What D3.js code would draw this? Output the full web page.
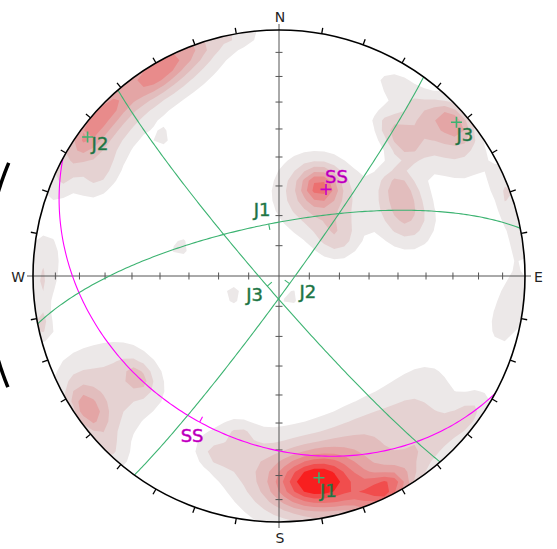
<!DOCTYPE html>
<html>
<head>
<meta charset="utf-8">
<script src="https://cdn.jsdelivr.net/npm/d3@7"></script>
<style>
  html, body { margin: 0; padding: 0; background: #fff; }
  svg { display: block; }
  text { font-family: "DejaVu Sans", Verdana, sans-serif; }
</style>
</head>
<body>
<svg id="net" width="557" height="549"></svg>
<script>
// ---- Planes: dip direction / dip (degrees) ----
const planeNames = ["SS", "J1", "J2", "J3"];
const planeDipDirection = [208.5, 348.8, 126.0, 229.1];
const planeDip = [32.9, 72.5, 85.7, 84.9];

// ---- Pole concentrations feeding the density contours ----
// trend (deg), plunge (deg), weight, spread (deg)
const clusterTrend  = [170.3, 170.8, 153.6, 153.6, 163.2, 137.4, 126.0, 130.2, 149.4, 101.0, 93.4,
                       24.5, 25.7, 56.8, 64.2, 64.2, 52.6, 43.9, 36.3, 31.3,
                       48.8, 49.7, 74.1, 43.1, 68.1, 82.7,
                       305.4, 314.7, 328.3, 310.2, 331.6, 338.5, 299.4, 350.8, 293.7,
                       273.9, 266.6, 258.3, 235.1, 235.1, 224.2, 238.4, 234.1, 234.1, 195.7, 199.7, 194.0,
                       247.6, 286.3, 152.4, 320.0];
const clusterPlunge = [16.8, 17.0, 3.3, 5.0, 7.8, 10.3, 4.5, 25.9, 28.1, 7.1, 3.5,
                       57.0, 60.0, 67.0, 42.5, 42.5, 39.0, 27.0, 24.8, 10.1,
                       5.5, 12.5, 2.7, 14.2, 1.2, 2.0,
                       3.6, 3.3, 4.5, 5.3, 2.9, 1.4, 17.6, 1.0, 3.2,
                       5.0, 3.0, 2.3, 5.3, 7.0, 1.6, 20.5, 30.0, 30.0, 27.4, 23.8, 34.9,
                       73.5, 55.5, 82.2, 27.6];
const clusterWeight = [4.0, 5.0, 4.5, 2.0, 1.5, 2.0, 2.0, 1.5, 1.6, 1.5, 1.3,
                       3.5, 3.5, 2.0, 1.6, 1.6, 2.3, 2.6, 1.8, 1.4,
                       3.0, 2.6, 1.4, 1.3, 1.3, 1.2,
                       2.2, 1.5, 2.0, 3.3, 3.3, 1.5, 1.5, 1.3, 1.3,
                       1.6, 1.3, 2.2, 2.0, 2.8, 1.3, 1.3, 1.5, 1.6, 1.5, 1.0, 1.0,
                       1.5, 1.5, 1.4, 1.2];
const clusterSpread = [6.5, 12, 4.5, 9, 6, 7, 5, 9, 9, 6, 4,
                       4, 9.3, 5, 6, 8, 4.5, 4.5, 4, 4,
                       4, 9, 4.5, 5, 4, 4,
                       4.5, 4, 5, 10, 10, 5, 5, 4, 4,
                       6, 4, 3, 3.5, 8, 4, 10, 3, 7, 8, 3, 3,
                       3, 3, 3, 2.5];

// ---- Contour levels ----
const contourLevels = [1, 2, 3, 4, 5, 6, 7, 8];
const contourColors = ["#ece8e8", "#e5d2d2", "#e2bdbd", "#e4a5a5", "#e88b8b", "#ec7070", "#f14d4d", "#f81f1f"];

// ---- Compass ----
const compassLabels = ["N", "E", "S", "W"];
const compassAzimuths = [0, 90, 180, 270];

// =====================================================================
const svg = d3.select("#net");
const cx = 279, cy = 276, R = 246;
const rad = Math.PI / 180;

const xs = d3.scaleLinear().domain([-1, 1]).range([cx - R, cx + R]);
const ys = d3.scaleLinear().domain([-1, 1]).range([cy + R, cy - R]);

// Lambert equal-area, lower hemisphere: (trend, plunge) -> unit disk
function project(trend, plunge) {
  const theta = (90 - plunge) * rad;
  const r = Math.SQRT2 * Math.sin(theta / 2);
  return [r * Math.sin(trend * rad), r * Math.cos(trend * rad)];
}
function toVec(trend, plunge) {
  const t = trend * rad, p = plunge * rad;
  return [Math.cos(p) * Math.sin(t), Math.cos(p) * Math.cos(t), Math.sin(p)];
}
function fromVec(v) {
  let [e, n, d] = v;
  if (d < 0) { e = -e; n = -n; d = -d; }
  const h = Math.hypot(e, n);
  return [Math.atan2(e, n) / rad, Math.atan2(d, h) / rad];
}
function unitToVec(x, y) {
  const r = Math.min(Math.hypot(x, y), 1);
  const theta = 2 * Math.asin(r / Math.SQRT2);
  const t = Math.atan2(x, y);
  return [Math.sin(theta) * Math.sin(t), Math.sin(theta) * Math.cos(t), Math.cos(theta)];
}
const P = (t, p) => { const u = project(t, p); return [xs(u[0]), ys(u[1])]; };

// ---- density grid (coarse counting grid) ----
const n = 52, L = 1.04;
const clusters = clusterTrend.map((t, i) => ({
  v: toVec(t, clusterPlunge[i]),
  w: clusterWeight[i],
  k: 1 / Math.pow(clusterSpread[i] * rad, 2)
}));
const gridX = c => -L + 2 * L * (c - 0.5) / (n - 1);
const gridY = c => L - 2 * L * (c - 0.5) / (n - 1);
const values = new Float64Array(n * n);
for (let j = 0; j < n; j++) {
  for (let i = 0; i < n; i++) {
    const v = unitToVec(gridX(i + 0.5), gridY(j + 0.5));
    let s = 0;
    for (const c of clusters) {
      const dot = v[0] * c.v[0] + v[1] * c.v[1] + v[2] * c.v[2];
      s += c.w * Math.exp(c.k * (dot - 1));
    }
    values[j * n + i] = s;
  }
}
const contours = d3.contours().size([n, n]).thresholds(contourLevels)(values);
const gridPath = d3.geoPath(d3.geoTransform({
  point(x, y) { this.stream.point(xs(gridX(x)), ys(gridY(y))); }
}));

svg.append("defs").append("clipPath").attr("id", "prim")
  .append("circle").attr("cx", cx).attr("cy", cy).attr("r", R);

svg.append("g").attr("clip-path", "url(#prim)")
  .selectAll("path").data(contours).join("path")
  .attr("d", gridPath)
  .attr("fill", (d, i) => contourColors[i])
  .attr("stroke", "none");

// ---- outer arc on the left margin ----
const arcR = 293;
const arcPts = d3.range(247.7, 293.01, 0.5).map(a => [cx + arcR * Math.sin(a * rad), cy - arcR * Math.cos(a * rad)]);
svg.append("path").attr("d", d3.line()(arcPts))
  .attr("fill", "none").attr("stroke", "#000").attr("stroke-width", 3.5);

// ---- cross axes with 10° ticks ----
const axisG = svg.append("g").attr("stroke", "#555").attr("stroke-width", 1);
axisG.append("line").attr("x1", cx - R - 6).attr("x2", cx + R + 6).attr("y1", cy).attr("y2", cy);
axisG.append("line").attr("y1", cy - R - 6).attr("y2", cy + R + 6).attr("x1", cx).attr("x2", cx);
const axisAngles = d3.range(10, 90, 10);
[0, 90, 180, 270].forEach(az => {
  axisAngles.forEach(a => {
    const [px, py] = P(az, 90 - a);
    const horiz = az === 90 || az === 270;
    axisG.append("line")
      .attr("x1", horiz ? px : px - 3.5).attr("x2", horiz ? px : px + 3.5)
      .attr("y1", horiz ? py - 3.5 : py).attr("y2", horiz ? py + 3.5 : py);
  });
});

// ---- great circles ----
const planeColor = ["#ff00ff", "#3cb371", "#3cb371", "#3cb371"];
const labelFill = ["#a000a0", "#1d6a3e", "#1d6a3e", "#1d6a3e"];
const labelStroke = ["#e000e0", "#2e8b57", "#2e8b57", "#2e8b57"];
function greatCircle(dd, dip) {
  const s = toVec(dd - 90, 0), d = toVec(dd, dip);
  return d3.range(0, 180.01, 1).map(a => {
    const c = Math.cos(a * rad), si = Math.sin(a * rad);
    const v = [c * s[0] + si * d[0], c * s[1] + si * d[1], c * s[2] + si * d[2]];
    const [t, p] = fromVec(v);
    return P(t, p);
  });
}
const line = d3.line();
planeNames.forEach((name, i) => {
  svg.append("path").attr("d", line(greatCircle(planeDipDirection[i], planeDip[i])))
    .attr("fill", "none").attr("stroke", planeColor[i]).attr("stroke-width", 1.1);
  // small tick at the dip point, pointing toward the pole
  const dd = planeDipDirection[i], dip = planeDip[i];
  const dv = toVec(dd, dip), pv = toVec(dd + 180, 90 - dip);
  const e = 3 * rad;
  const mv = dv.map((x, k) => Math.cos(e) * x + Math.sin(e) * pv[k]);
  const a = P(dd, dip), b = P(...fromVec(mv));
  const len = Math.hypot(b[0] - a[0], b[1] - a[1]);
  svg.append("line").attr("x1", a[0]).attr("y1", a[1])
    .attr("x2", a[0] + (b[0] - a[0]) / len * 6).attr("y2", a[1] + (b[1] - a[1]) / len * 6)
    .attr("stroke", planeColor[i]).attr("stroke-width", 1.1);
});

// ---- primitive circle and azimuth ticks ----
svg.append("circle").attr("cx", cx).attr("cy", cy).attr("r", R)
  .attr("fill", "none").attr("stroke", "#000").attr("stroke-width", 1.6);
const tickG = svg.append("g").attr("stroke", "#000").attr("stroke-width", 1.3);
d3.range(0, 360, 10).filter(a => a % 90 !== 0).forEach(a => {
  const sx = Math.sin(a * rad), sy = -Math.cos(a * rad);
  tickG.append("line")
    .attr("x1", cx + R * sx).attr("y1", cy + R * sy)
    .attr("x2", cx + (R + 6) * sx).attr("y2", cy + (R + 6) * sy);
});

// ---- poles and labels ----
const poleOffset = { SS: [-1, -6], J1: [1, 19], J2: [4, 13], J3: [0, 19] };
const planeOffset = { SS: [-19, 20], J1: [-15, -8], J2: [10, 14], J3: [-21, 15] };
planeNames.forEach((name, i) => {
  const dd = planeDipDirection[i], dip = planeDip[i];
  const [px, py] = P(dd + 180, 90 - dip);
  const col = i === 0 ? "#c800c8" : "#3cb371";
  svg.append("path").attr("d", `M${px - 5.5},${py}H${px + 5.5}M${px},${py - 5.5}V${py + 5.5}`)
    .attr("stroke", col).attr("stroke-width", 1.6).attr("fill", "none");
  const o = poleOffset[name];
  svg.append("text").attr("x", px + o[0]).attr("y", py + o[1])
    .attr("font-size", 18).attr("fill", labelFill[i])
    .attr("stroke", labelStroke[i]).attr("stroke-width", 0.5)
    .text(name);
  const [qx, qy] = P(dd, dip);
  const q = planeOffset[name];
  svg.append("text").attr("x", qx + q[0]).attr("y", qy + q[1])
    .attr("font-size", 18).attr("fill", labelFill[i])
    .attr("stroke", labelStroke[i]).attr("stroke-width", 0.5)
    .text(name);
});

// ---- compass labels ----
compassLabels.forEach((lab, i) => {
  const az = compassAzimuths[i];
  const t = svg.append("text").attr("font-size", 14).attr("fill", "#222").text(lab);
  if (az === 0) t.attr("x", cx + 1).attr("y", cy - R - 8).attr("text-anchor", "middle");
  if (az === 180) t.attr("x", cx + 1).attr("y", cy + R + 21).attr("text-anchor", "middle");
  if (az === 90) t.attr("x", cx + R + 9).attr("y", cy + 6).attr("text-anchor", "start");
  if (az === 270) t.attr("x", cx - R - 8).attr("y", cy + 6).attr("text-anchor", "end");
});
</script>
</body>
</html>
